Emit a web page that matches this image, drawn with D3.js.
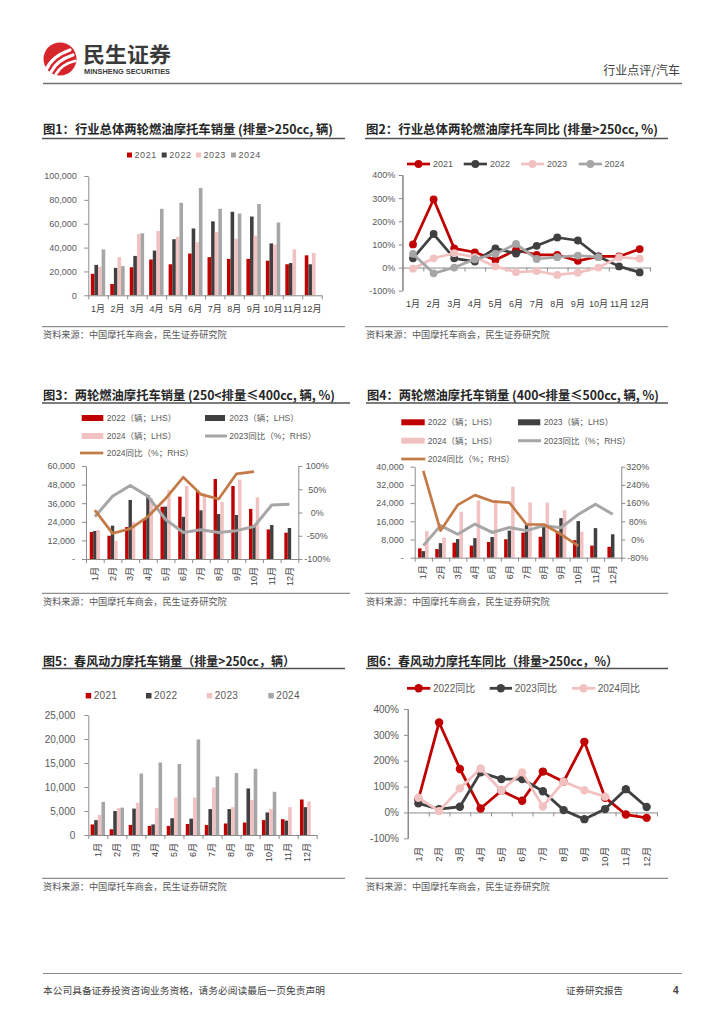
<!DOCTYPE html>
<html><head><meta charset="utf-8">
<script src="https://cdn.jsdelivr.net/npm/d3@7"></script>
<style>body{margin:0;background:#fff}</style>
</head><body><svg id="page" width="724" height="1024"></svg>
<script>
// ---------------- DATA ----------------
const months = ["1月","2月","3月","4月","5月","6月","7月","8月","9月","10月","11月","12月"];

// Chart 1: total sales (>250cc)
const c1Labels = ["2021","2022","2023","2024"];
const c1_2021 = [18000, 9500, 23500, 30000, 26000, 35000, 32000, 30500, 30500, 29000, 26000, 33500];
const c1_2022 = [25500, 23000, 33000, 37500, 47000, 56000, 62000, 70000, 66000, 43500, 27000, 26000];
const c1_2023 = [24000, 32000, 51500, 54000, 49000, 44500, 53000, 47500, 50000, 42500, 38500, 35500];
const c1_2024 = [38500, 24500, 52000, 72500, 77500, 90000, 72500, 68500, 76500, 61000, null, null];
const c1Ticks = [0, 20000, 40000, 60000, 80000, 100000];

// Chart 2: YoY (>250cc, %)
const c2Labels = ["2021","2022","2023","2024"];
const c2_2021 = [100, 295, 83, 66, 33, 76, 55, 55, 29, 48, 48, 80];
const c2_2022 = [40, 145, 40, 26, 83, 60, 94, 130, 117, 48, 5, -21];
const c2_2023 = [-5, 40, 62, 45, 5, -20, -15, -32, -22, 0, 45, 38];
const c2_2024 = [59, -25, 0, 36, 59, 102, 37, 45, 52, 45, null, null];
const c2Ticks = [-100, 0, 100, 200, 300, 400];

// Chart 3: 250<cc<=400
const c3Labels = ["2022（辆；LHS）","2023（辆；LHS）","2024（辆；LHS）","2023同比（%；RHS）","2024同比（%；RHS）"];
const c3_2022 = [17400, 15000, 20600, 25600, 33700, 40200, 43900, 51600, 47100, 32300, 19100, 17000];
const c3_2023 = [18100, 21500, 38100, 41300, 33800, 27200, 31400, 29000, 28400, 21900, 21900, 20000];
const c3_2024 = [18700, 11600, 23900, 39000, 44500, 47100, 42200, 36800, 51200, 39800, null, null];
const c3_yoy2023 = [-9, 35, 58, 35, -15, -43, -37, -43, -39, -30, 16, 18];
const c3_yoy2024 = [5, -45, -35, -9, 30, 76, 39, 29, 83, 88, null, null];
const c3LeftTicks = [0, 12000, 24000, 36000, 48000, 60000];
const c3RightTicks = [-100, -50, 0, 50, 100];

// Chart 4: 400<cc<=500
const c4Labels = ["2022（辆；LHS）","2023（辆；LHS）","2024（辆；LHS）","2023同比（%；RHS）","2024同比（%；RHS）"];
const c4_2022 = [4100, 3800, 6600, 5300, 6900, 8100, 11000, 9200, 11400, 7700, 5300, 4800];
const c4_2023 = [2900, 6400, 8200, 8600, 9100, 11900, 14700, 13800, 17400, 16100, 13000, 10300];
const c4_2024 = [11700, 8900, 20200, 25100, 25300, 31200, 24300, 24200, 20900, 11400, null, null];
const c4_yoy2023 = [-27, 61, 23, 68, 31, 53, 39, 61, 52, 110, 155, 111];
const c4_yoy2024 = [302, 39, 152, 195, 168, 162, 66, 66, 23, -28, null, null];
const c4LeftTicks = [0, 8000, 16000, 24000, 32000, 40000];
const c4RightTicks = [-80, 0, 80, 160, 240, 320];

// Chart 5: CFMOTO sales
const c5Labels = ["2021","2022","2023","2024"];
const c5_2021 = [2200, 1200, 2100, 1900, 1900, 2300, 2100, 2400, 2600, 3100, 3300, 7400];
const c5_2022 = [3100, 5000, 5500, 2200, 3500, 3400, 5400, 5400, 9700, 4700, 3000, 5800];
const c5_2023 = [4200, 5600, 6700, 5600, 7800, 7800, 9900, 5800, 7300, 5400, 5800, 7000];
const c5_2024 = [6900, 5700, 12800, 15100, 14800, 19900, 12200, 12900, 13800, 9000, null, null];
const c5Ticks = [0, 5000, 10000, 15000, 20000, 25000];

// Chart 6: CFMOTO YoY
const c6Labels = ["2022同比","2023同比","2024同比"];
const c6_2022 = [50, 348, 168, 15, 84, 45, 158, 119, 273, 57, -8, -21];
const c6_2023 = [35, 13, 22, 155, 129, 129, 82, 9, -26, 13, 90, 21];
const c6_2024 = [57, 5, 93, 170, 84, 155, 23, 119, 86, 61, null, null];
const c6Ticks = [-100, 0, 100, 200, 300, 400];

// ---------------- STYLE ----------------
const RED = "#C00000", DARK = "#404040", PINK = "#F2C2C2", GREY = "#A6A6A6", ORANGE = "#C47A46";
const NUM = "'Liberation Sans', Arial, 'Noto Sans CJK SC', sans-serif";
const CJK = "'Noto Sans CJK SC', 'Liberation Sans', sans-serif";
const AXIS = "#8C8C8C", TXT = "#595959";

const svg = d3.select("#page");
svg.append("rect").attr("width", 724).attr("height", 1024).attr("fill", "#fff");

// ---------------- HEADER / FOOTER ----------------
(function header(){
  const g = svg.append("g");
  g.append("circle").attr("cx", 60).attr("cy", 59).attr("r", 16.5).attr("fill", "#D7252C");
  const sw = [["M46,70 Q52,56 70,50", 3.2], ["M51,72 Q57,60 73,55", 3.2], ["M56,74 Q62,64 75,61", 2.8]];
  sw.forEach(s => g.append("path").attr("d", s[0]).attr("stroke", "#fff").attr("stroke-width", s[1]).attr("fill", "none").attr("stroke-linecap", "round"));
  g.append("text").attr("x", 83).attr("y", 62).text("民生证券").attr("font-family", CJK).attr("font-weight", "bold")
    .attr("font-size", 21).attr("fill", "#3A3A3A").attr("textLength", 88).attr("lengthAdjust", "spacingAndGlyphs");
  g.append("text").attr("x", 84).attr("y", 74).text("MINSHENG SECURITIES").attr("font-family", NUM).attr("font-weight", "bold")
    .attr("font-size", 7.5).attr("fill", "#3A3A3A").attr("textLength", 86).attr("lengthAdjust", "spacingAndGlyphs");
  g.append("text").attr("x", 680).attr("y", 75).attr("text-anchor", "end").text("行业点评/汽车").attr("font-family", CJK)
    .attr("font-size", 12).attr("fill", "#404040");
  g.append("line").attr("x1", 43).attr("x2", 682).attr("y1", 83.5).attr("y2", 83.5).attr("stroke", "#707070").attr("stroke-width", 1.5);

  g.append("line").attr("x1", 43).attr("x2", 682).attr("y1", 973.5).attr("y2", 973.5).attr("stroke", "#8C8C8C").attr("stroke-width", 1.2);
  g.append("text").attr("x", 43).attr("y", 994).text("本公司具备证券投资咨询业务资格，请务必阅读最后一页免责声明")
    .attr("font-family", CJK).attr("font-size", 9.5).attr("fill", "#404040").attr("textLength", 282).attr("lengthAdjust", "spacingAndGlyphs");
  g.append("text").attr("x", 566).attr("y", 994).text("证券研究报告").attr("font-family", CJK).attr("font-size", 9.5).attr("fill", "#404040");
  g.append("text").attr("x", 673).attr("y", 994).text("4").attr("font-family", NUM).attr("font-weight", "bold").attr("font-size", 10).attr("fill", "#404040");
})();

// ---------------- HELPERS ----------------
function title(txt, x, base, lineX2, lineY, len){
  svg.append("text").attr("x", x).attr("y", base).text(txt).attr("font-family", CJK).attr("font-weight", "bold")
    .attr("font-size", 12.5).attr("fill", "#262626").attr("textLength", len).attr("lengthAdjust", "spacingAndGlyphs");
  svg.append("line").attr("x1", x - 1).attr("x2", lineX2).attr("y1", lineY).attr("y2", lineY).attr("stroke", "#505050").attr("stroke-width", 1.5);
}
function source(x, lineY, lineX2){
  svg.append("line").attr("x1", x - 1).attr("x2", lineX2).attr("y1", lineY).attr("y2", lineY).attr("stroke", "#707070").attr("stroke-width", 1);
  svg.append("text").attr("x", x).attr("y", lineY + 11.5).text("资料来源：中国摩托车商会，民生证券研究院")
    .attr("font-family", CJK).attr("font-size", 9.2).attr("fill", TXT);
}
function styleAxis(g, fs){
  g.attr("font-family", NUM);
  g.select(".domain").attr("stroke", AXIS);
  g.selectAll(".tick line").attr("stroke", AXIS);
  g.selectAll(".tick text").attr("fill", TXT).attr("font-size", fs).attr("font-family", NUM);
}
function yAxis(scale, xPos, ticks, fmt, fs, pad, side){
  const ax = (side === "right" ? d3.axisRight(scale) : d3.axisLeft(scale)).tickValues(ticks).tickSize(4).tickPadding(pad).tickFormat(fmt).tickSizeOuter(0);
  const g = svg.append("g").attr("transform", `translate(${xPos},0)`).call(ax);
  styleAxis(g, fs);
  return g;
}
// x axis: line + boundary ticks (linear axis) + month labels (band axis)
function xAxis(band, yPos, labelOff, rotated, fs){
  const r = band.range();
  const lin = d3.scaleLinear().domain([0, months.length]).range(r);
  const gt = svg.append("g").attr("transform", `translate(0,${yPos})`)
    .call(d3.axisBottom(lin).ticks(months.length).tickSize(4).tickSizeOuter(0).tickFormat(""));
  styleAxis(gt, fs);
  const gl = svg.append("g").attr("transform", `translate(0,${yPos})`)
    .call(d3.axisBottom(band).tickSize(0).tickSizeOuter(0));
  gl.select(".domain").remove();
  gl.selectAll(".tick text").attr("fill", "#404040").attr("font-size", fs).attr("font-family", NUM);
  if (rotated){
    gl.selectAll(".tick text").attr("transform", "rotate(-90)").attr("x", -labelOff).attr("y", 0)
      .attr("dy", "0.35em").attr("text-anchor", "end");
  } else {
    gl.selectAll(".tick text").attr("y", labelOff).attr("dy", "0.35em");
  }
}
function bars(band, y, series, colors, groupW, baseY){
  const bw = band.bandwidth();
  const sub = d3.scaleBand().domain(d3.range(series.length)).range([(bw - groupW) / 2, (bw + groupW) / 2]);
  series.forEach((arr, k) => {
    svg.append("g").selectAll("rect")
      .data(arr.map((v, i) => ({v, i})).filter(d => d.v != null))
      .join("rect")
      .attr("x", d => band(months[d.i]) + sub(k))
      .attr("width", sub.bandwidth())
      .attr("y", d => y(d.v))
      .attr("height", d => baseY - y(d.v))
      .attr("fill", colors[k]);
  });
}
function line(band, y, arr, color, w, markerR){
  const cx = m => band(m) + band.bandwidth() / 2;
  const pts = arr.map((v, i) => ({v, m: months[i]}));
  svg.append("path").datum(pts)
    .attr("d", d3.line().defined(d => d.v != null).x(d => cx(d.m)).y(d => y(d.v)))
    .attr("fill", "none").attr("stroke", color).attr("stroke-width", w).attr("stroke-linejoin", "round");
  if (markerR){
    svg.append("g").selectAll("circle").data(pts.filter(d => d.v != null)).join("circle")
      .attr("cx", d => cx(d.m)).attr("cy", d => y(d.v)).attr("r", markerR).attr("fill", color);
  }
}
function legSquare(x, y, s, color, label, fs, ls){
  svg.append("rect").attr("x", x).attr("y", y - s / 2).attr("width", s).attr("height", s).attr("fill", color);
  svg.append("text").attr("x", x + s + 2.5).attr("y", y).attr("dy", "0.35em").text(label)
    .attr("font-family", NUM).attr("font-size", fs).attr("fill", TXT).attr("letter-spacing", ls || 0);
}
function legLine(x1, x2, y, color, w, r, label, tx, fs){
  svg.append("line").attr("x1", x1).attr("x2", x2).attr("y1", y).attr("y2", y).attr("stroke", color).attr("stroke-width", w);
  if (r) svg.append("circle").attr("cx", (x1 + x2) / 2).attr("cy", y).attr("r", r).attr("fill", color);
  svg.append("text").attr("x", tx).attr("y", y).attr("dy", "0.35em").text(label)
    .attr("font-family", NUM).attr("font-size", fs).attr("fill", TXT);
}
function legBar(x1, x2, y, color, label, tx, fs){
  svg.append("rect").attr("x", x1).attr("y", y - 3).attr("width", x2 - x1).attr("height", 6).attr("fill", color);
  svg.append("text").attr("x", tx).attr("y", y).attr("dy", "0.35em").text(label)
    .attr("font-family", NUM).attr("font-size", fs).attr("fill", TXT);
}

// ---------------- CHART 1 ----------------
title("图1：行业总体两轮燃油摩托车销量 (排量>250cc, 辆)", 43, 133.5, 345, 138.5, 290);
{
  const x0 = 88.3, x1 = 321.7, yT = 176, yB = 295.3;
  const x = d3.scaleBand().domain(months).range([x0, x1]);
  const y = d3.scaleLinear().domain([0, 100000]).range([yB, yT]);
  const cols = [RED, DARK, PINK, GREY];
  bars(x, y, [c1_2021, c1_2022, c1_2023, c1_2024], cols, 14.4, yB);
  yAxis(y, x0, c1Ticks, d3.format(","), 9, 7.5);
  xAxis(x, yB, 13.7, false, 9);
  const lx = [127, 161.7, 196, 231];
  c1Labels.forEach((l, i) => legSquare(lx[i], 155, 5, cols[i], l, 9, 0.6));
}
source(43, 326.7, 345);

// ---------------- CHART 2 ----------------
title("图2：行业总体两轮燃油摩托车同比 (排量>250cc, %)", 366, 133.5, 668, 138.5, 292);
{
  const x0 = 402.7, x1 = 650, yT = 175, yB = 290.7;
  const x = d3.scaleBand().domain(months).range([x0, x1]);
  const y = d3.scaleLinear().domain([-100, 400]).range([yB, yT]);
  svg.append("line").attr("x1", x0).attr("x2", x0).attr("y1", yT).attr("y2", yB).attr("stroke", AXIS);
  yAxis(y, x0, c2Ticks, d => d + "%", 9, 3.5);
  xAxis(x, y(0), 36.4, false, 9);
  const cols = [RED, DARK, PINK, GREY];
  [c2_2021, c2_2022, c2_2023, c2_2024].forEach((arr, k) => line(x, y, arr, cols[k], 2.7, 3.9));
  const L = [[407, 430, 433], [463.7, 487, 490], [521, 544, 547], [578.7, 602, 604.5]];
  c2Labels.forEach((l, i) => legLine(L[i][0], L[i][1], 164, cols[i], 2.7, 3.9, l, L[i][2], 9));
}
source(366, 326.7, 668);

// ---------------- CHART 3 ----------------
title("图3：两轮燃油摩托车销量 (250<排量≤400cc, 辆, %)", 43, 399.5, 350, 403, 292);
{
  const x0 = 86, x1 = 298.3, yT = 466, yB = 559;
  const x = d3.scaleBand().domain(months).range([x0, x1]);
  const y = d3.scaleLinear().domain([0, 60000]).range([yB, yT]);
  const yr = d3.scaleLinear().domain([-100, 100]).range([yB, yT]);
  bars(x, y, [c3_2022, c3_2023, c3_2024], [RED, DARK, PINK], 10.2, yB);
  yAxis(y, x0, c3LeftTicks, d => d === 0 ? "-" : d3.format(",")(d), 9, 7);
  const gr = yAxis(yr, x1, c3RightTicks, d => d + "%", 9, 5, "right");
  gr.selectAll(".tick text").attr("text-anchor", "middle").attr("x", 19);
  xAxis(x, yB, 8, true, 9);
  line(x, yr, c3_yoy2023, GREY, 3, 0);
  line(x, yr, c3_yoy2024, ORANGE, 2.7, 0);
  legBar(81.7, 103.3, 418, RED, c3Labels[0], 106.7, 8.5);
  legBar(205, 225, 418, DARK, c3Labels[1], 229.3, 8.5);
  legBar(81.7, 103.3, 436, PINK, c3Labels[2], 106.7, 8.5);
  legLine(205, 227, 436, GREY, 3, 0, c3Labels[3], 229.3, 8.5);
  legLine(80, 103.3, 453, ORANGE, 2.7, 0, c3Labels[4], 106.7, 8.5);
}
source(43, 593.3, 350);

// ---------------- CHART 4 ----------------
title("图4：两轮燃油摩托车销量 (400<排量≤500cc, 辆, %)", 367, 399.5, 668, 403, 292);
{
  const x0 = 414.7, x1 = 621.3, yT = 466.7, yB = 557.7;
  const x = d3.scaleBand().domain(months).range([x0, x1]);
  const y = d3.scaleLinear().domain([0, 40000]).range([yB, yT]);
  const yr = d3.scaleLinear().domain([-80, 320]).range([yB, yT]);
  bars(x, y, [c4_2022, c4_2023, c4_2024], [RED, DARK, PINK], 10.5, yB);
  yAxis(y, x0, c4LeftTicks, d => d === 0 ? "-" : d3.format(",")(d), 9, 7);
  const gr = yAxis(yr, x1, c4RightTicks, d => d + "%", 9, 5, "right");
  gr.selectAll(".tick text").attr("text-anchor", "middle").attr("x", 16.5);
  xAxis(x, yB, 7.5, true, 9);
  line(x, yr, c4_yoy2023, GREY, 3, 0);
  line(x, yr, c4_yoy2024, ORANGE, 2.7, 0);
  legBar(401.3, 424.7, 422.3, RED, c4Labels[0], 427.7, 8.5);
  legBar(518, 540.3, 422.3, DARK, c4Labels[1], 543.7, 8.5);
  legBar(401.3, 424.7, 440.7, PINK, c4Labels[2], 427.7, 8.5);
  legLine(518, 541, 440.7, GREY, 3, 0, c4Labels[3], 543.7, 8.5);
  legLine(401.3, 425.3, 459, ORANGE, 2.7, 0, c4Labels[4], 427.7, 8.5);
}
source(366, 593.3, 668);

// ---------------- CHART 5 ----------------
title("图5：春风动力摩托车销量（排量>250cc，辆）", 43, 665.5, 345, 668.5, 252);
{
  const x0 = 88.3, x1 = 316.7, yT = 715, yB = 835;
  const x = d3.scaleBand().domain(months).range([x0, x1]);
  const y = d3.scaleLinear().domain([0, 25000]).range([yB, yT]);
  const cols = [RED, DARK, PINK, GREY];
  bars(x, y, [c5_2021, c5_2022, c5_2023, c5_2024], cols, 14.4, yB);
  yAxis(y, x0, c5Ticks, d3.format(","), 10, 9);
  xAxis(x, yB, 8, true, 9);
  const lx = [85.7, 146, 206.7, 268.3];
  c5Labels.forEach((l, i) => legSquare(lx[i], 695.7, 5.5, cols[i], l, 10, 0.3));
}
source(43, 878.3, 345);

// ---------------- CHART 6 ----------------
title("图6：春风动力摩托车同比（排量>250cc，%）", 367, 665.5, 668, 668.5, 251);
{
  const x0 = 408, x1 = 657, yT = 709, yB = 838.3;
  const x = d3.scaleBand().domain(months).range([x0, x1]);
  const y = d3.scaleLinear().domain([-100, 400]).range([yB, yT]);
  svg.append("line").attr("x1", x0).attr("x2", x0).attr("y1", yT).attr("y2", yB).attr("stroke", AXIS);
  yAxis(y, x0, c6Ticks, d => d + "%", 10, 5);
  xAxis(x, y(0), 34.4, true, 9.5);
  const cols = [RED, DARK, PINK];
  [c6_2022, c6_2023, c6_2024].forEach((arr, k) => line(x, y, arr, cols[k], 2.8, 4.2));
  const L = [[407, 430.3, 433], [489.7, 512, 514.7], [572, 595.3, 597.7]];
  c6Labels.forEach((l, i) => legLine(L[i][0], L[i][1], 688.3, cols[i], 2.8, 4.2, l, L[i][2], 10));
}
source(366, 878.3, 668);
</script>
</body></html>
